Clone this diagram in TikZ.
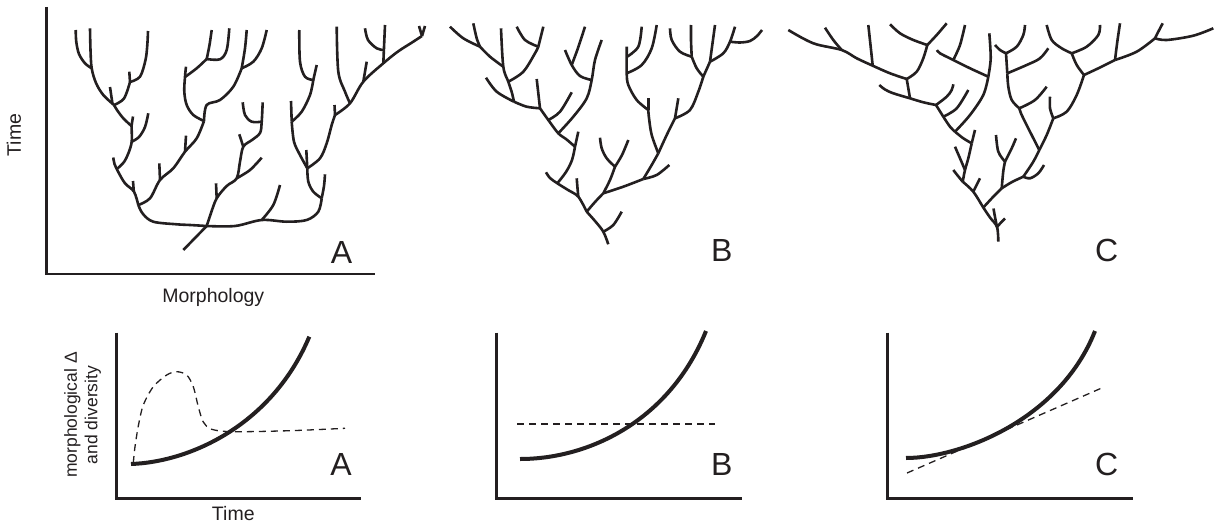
\documentclass[tikz,border=0pt]{standalone}
\usepackage{fontspec}
\setmainfont{Liberation Sans}
\definecolor{ink}{RGB}{35,31,32}
\newcommand{\brn}[1]{\draw[tree] plot[smooth,tension=0.55] coordinates {#1};}
\begin{document}
\begin{tikzpicture}[x=1pt,y=-1pt,
  tree/.style={line width=2.6pt, line cap=butt, line join=round, draw=ink},
  axis/.style={line width=2.8pt, line cap=butt, line join=miter, draw=ink},
  curve/.style={line width=4pt, draw=ink},
  dsh/.style={line width=1.3pt, dash pattern=on 7pt off 5pt, draw=ink},
  big/.style={font=\fontsize{32}{38}\selectfont, inner sep=0pt, text=ink},
  lab/.style={font=\fontsize{19.5}{23}\selectfont, inner sep=0pt, text=ink}]
\useasboundingbox (0,0) rectangle (1215,527);
% ---------------- top axes A
\draw[axis] (46.7,7) -- (46.7,274) -- (375,274);
\node[lab, rotate=90] (time1) at (14,135) {Time};
\node[lab, anchor=base] (morph) at (213.3,302) {Morphology};
% ---------------- tree A
\brn{(183.3,250) (195,238) (206.7,226)}
\brn{(206.7,226) (190,225) (176.7,224.3) (153.3,221.7) (143,214) (138.3,205)}
\brn{(206.7,226) (235,226) (261.7,220) (286.7,221.7) (306.7,220) (318.3,211.7) (321.7,198.3)}
\brn{(138.3,205) (134,191.7) (125,183.3) (118.3,172) (114.5,164) (113.3,157.5)}
\brn{(133.8,191.5) (133,181)}
\brn{(117.5,168.5) (124,162) (128.5,153) (131.7,141.7) (131.5,126)}
\brn{(131.5,126) (133,116.5)}
\brn{(131.5,126) (123.3,118.3) (117,110) (114,105)}
\brn{(131.7,141.7) (139,137) (145,127) (148.3,113.3)}
\brn{(112.5,104) (110,87)}
\brn{(114,105) (103.3,95) (96,83) (91.7,68.3) (90.5,50) (90,28.3)}
\brn{(91.7,68.3) (85,63.3) (79,54) (76.3,42) (75.7,30)}
\brn{(114,105) (124,98.5) (130,82)}
\brn{(130,82) (129.3,71.7)}
\brn{(130,82) (140,76.7) (145.5,60) (147.3,45) (148,31)}
\brn{(138.3,205) (150,198.3) (160,180) (173.3,168.3) (185,151.7) (196.7,138.3) (204,121)}
\brn{(160,180) (159.3,163.3)}
\brn{(185,151.7) (186,135.7)}
\brn{(204,121) (193.3,115) (186.7,105) (184.3,91.7) (185,76.7) (186,66.7)}
\brn{(185,77) (196.7,68.3) (206.7,59)}
\brn{(206.7,59) (209.5,45) (211.7,30)}
\brn{(206.7,59) (220,59.3) (226.7,50) (229.3,28.3)}
\brn{(204,121) (206.7,105) (220,100) (233.3,86.7) (241.7,68.3)}
\brn{(241.7,68.3) (245,48.3) (246.7,30)}
\brn{(241.7,68.3) (253.3,61.7) (261.7,48.3) (266.7,30)}
\brn{(206.7,226) (211,213) (216.7,198.3) (226.7,186) (236.7,178.3) (240,161.7) (243.3,146.7) (252,140) (260,133) (261.7,121.7) (262.7,102.3)}
\brn{(216.7,198.3) (216,183.3)}
\brn{(236.7,178.3) (250,170) (261.7,157.7)}
\brn{(243.3,146.7) (239.3,134.3)}
\brn{(261.7,121.7) (251.7,121.7) (245,115) (242.7,102.3)}
\brn{(261.7,220) (273.3,205) (280,185)}
\brn{(321.7,198.3) (324,186) (325,174.3)}
\brn{(321.7,198.3) (313.3,191.7) (308.3,181.7) (307.3,168.3)}
\brn{(307.3,168.3) (306.3,150)}
\brn{(307.3,168.3) (300,155) (294,141.7) (291.7,121.7)}
\brn{(291.7,121.7) (291,101)}
\brn{(291.7,121.7) (301.7,111.7) (310,95) (313.3,80)}
\brn{(313.3,80) (305,76.7) (300,61.7) (299.3,30)}
\brn{(313.3,80) (316.7,65)}
\brn{(307.3,168.3) (320,158.3) (326.7,143.3) (331.7,125) (335,115)}
\brn{(335,115) (334.5,105)}
\brn{(335,115) (350,103.3) (363.3,81.7) (383.3,63.3) (398,51.5) (412,42.5) (422,36)}
\brn{(422,36) (425,26)}
\brn{(422,36) (419,26)}
\brn{(350,103.3) (345,91.7) (338.3,71.7) (336.7,26.7)}
\brn{(363.3,81.7) (366.7,61.7)}
\brn{(383.3,63.3) (385,25)}
\brn{(383.3,50) (376.7,48.3) (368,40) (365,28.3)}
\node[big] (ta) at (341.5,252) {A};
% ---------------- tree B
\brn{(608.3,244.3) (603.3,231.7) (595,221) (586.7,211.7)}
\brn{(603.3,231.7) (613.3,225) (621.7,211.7)}
\brn{(586.7,211.7) (578.3,196.7) (568,190) (557.3,183.3) (550,178) (546,172.3)}
\brn{(578.3,196.7) (577.5,188) (576.7,178.3)}
\brn{(557.3,183.3) (566,172) (572,160) (575,146.7)}
\brn{(575,146.7) (578.3,131.7)}
\brn{(575,146.7) (566,139) (558.3,133.3) (548.3,120) (540,108.3)}
\brn{(558.3,133.3) (573.3,116.7) (586.7,98.3) (591.7,80) (595,60) (601.7,40)}
\brn{(548.3,120) (560,111.7) (571.7,92.3)}
\brn{(591.7,80) (580,76) (571.7,65) (565,50)}
\brn{(571.7,65) (578,48) (585,26.7)}
\brn{(540,108.3) (536.7,79)}
\brn{(540,108.3) (526.7,106.7) (514,101.7)}
\brn{(514,101.7) (496.7,91.7) (486,77.7)}
\brn{(514,101.7) (511.7,92) (508.3,81.7) (503.3,66.7) (501,28.3)}
\brn{(503.3,66.7) (490,56.7) (480,46.7)}
\brn{(480,46.7) (476.7,38.3) (473.3,23.3)}
\brn{(480,46.7) (463.3,38.3) (450,26.7)}
\brn{(508.3,81.7) (523.3,71.7) (535,53.3) (538.3,46.7)}
\brn{(538.3,46.7) (525,40) (516.7,26.7)}
\brn{(538.3,46.7) (541,36) (543.3,26.7)}
\brn{(586.7,211.7) (595,202) (603.3,193.3)}
\brn{(603.3,193.3) (610,180) (615,166.7)}
\brn{(615,166.7) (606.7,158.3) (601.7,148.3) (600,137.7)}
\brn{(615,166.7) (622,155) (628.3,140)}
\brn{(603.3,193.3) (623.3,186.7) (643.3,179)}
\brn{(643.3,179) (656.7,175) (669.3,165)}
\brn{(643.3,179) (651.7,165) (658.3,153.3)}
\brn{(658.3,153.3) (651.7,135) (649,118) (648.3,110)}
\brn{(648.3,110) (648.3,97.7)}
\brn{(648.3,110) (636.7,100) (628.3,85) (626.7,73.3) (626.7,55) (626.7,46.7)}
\brn{(626.7,57) (638.3,46.7) (641.7,26.7)}
\brn{(626.7,73.3) (641.7,65) (651.7,48.3) (656.7,25)}
\brn{(658.3,153.3) (666.7,135) (675,118.3)}
\brn{(675,118.3) (678.3,98.3)}
\brn{(675,118.3) (690,110) (698.3,91.7) (703.3,76.7)}
\brn{(703.3,76.7) (696.7,68.3) (691.7,56.7)}
\brn{(691.7,56.7) (680,51.7) (671.7,40) (670,28.3)}
\brn{(691.7,56.7) (691,40) (691,25)}
\brn{(703.3,76.7) (710,61.7)}
\brn{(710,61.7) (715,25)}
\brn{(710,61.7) (723.3,53.3) (730,41.7) (735,26.7)}
\brn{(730,41.7) (740,42.5) (750,41) (757,36) (762,30)}
\node[big] (tb) at (721.7,250) {B};
% ---------------- tree C
\brn{(788.3,30) (813.3,43.3) (841.7,50) (856.7,58.3) (872.7,65.7) (890,73.3) (906.7,79)}
\brn{(841.7,50) (833.3,40) (825,27.7)}
\brn{(872.7,65.7) (870.5,45) (868.3,25)}
\brn{(906.7,79) (916.7,71.7) (923.3,58.3) (927.3,45)}
\brn{(927.3,45) (913.3,40) (900,33.3) (890,24.3)}
\brn{(927.3,45) (936.7,35) (946.7,23.3)}
\brn{(906.7,79) (908.3,88.3) (910,98.3)}
\brn{(910,98.3) (893.3,93.3) (885,89.5) (879.3,85)}
\brn{(910,98.3) (923.3,102.3) (936,105)}
\brn{(936,105) (946.7,96.7) (951.7,90) (953.3,84.3)}
\brn{(936,105) (943.3,116.7)}
\brn{(943.3,116.7) (956.7,108.3) (968.3,90)}
\brn{(943.3,116.7) (950,126.7) (955,131.7)}
\brn{(955,131.7) (970,115) (983.3,95) (988.3,76.7)}
\brn{(955,131.7) (963.3,138.3) (971.7,143.3)}
\brn{(971.7,143.3) (975,130)}
\brn{(971.7,143.3) (968.3,158.3) (965,170) (962.7,181.7)}
\brn{(965,170) (960,158.3) (955,146.7)}
\brn{(962.7,181.7) (958,176) (953.3,170)}
\brn{(962.7,181.7) (973.3,191.7) (983.3,207.5) (990,217.5) (997,227) (998.3,241.7)}
\brn{(973.3,191.7) (980,178.3)}
\brn{(997,227) (995,217) (993.5,208.5)}
\brn{(997,227) (1001,222.5) (1005,218.5)}
\brn{(983.3,207.5) (993.3,196.7) (1001.7,188.3)}
\brn{(1001.7,188.3) (1003.3,171) (1005,161.7)}
\brn{(1005,161.7) (998.3,151.7) (996,135)}
\brn{(1005,161.7) (1011.7,148.3) (1016,138.3)}
\brn{(1001.7,188.3) (1012,182) (1023.3,176.7)}
\brn{(1023.3,176.7) (1030,178.3) (1038.3,173.3) (1044,165)}
\brn{(1023.3,176.7) (1033.3,161.7) (1039.3,150)}
\brn{(1039.3,150) (1030,131.7) (1021.7,115) (1019.3,108.3)}
\brn{(1019.3,108.3) (1035,100) (1046.7,86.7)}
\brn{(1019.3,108.3) (1011.7,100) (1008.3,86.7) (1007.3,73.3)}
\brn{(1007.3,73.3) (1026.7,65) (1040,58.3) (1048.3,48.3)}
\brn{(1007.3,73.3) (1006,53.3)}
\brn{(1006,53.3) (1000,50) (995,45)}
\brn{(1006,53.3) (1016.7,46.7) (1023.3,35) (1025,25)}
\brn{(1039.3,150) (1046.7,135) (1053.3,118.3)}
\brn{(1053.3,118.3) (1050,108.3) (1050,96.7)}
\brn{(1053.3,118.3) (1066.7,111.7) (1076.7,95) (1084,75)}
\brn{(1084,75) (1076.7,65) (1071.7,53.3)}
\brn{(1071.7,53.3) (1061.7,48.3) (1051.7,40) (1046.7,25)}
\brn{(1071.7,53.3) (1086.7,46.7) (1098.3,35) (1100,25)}
\brn{(1084,75) (1100,67.5) (1115,60)}
\brn{(1115,60) (1117.3,41.7) (1120,23.3)}
\brn{(1115,60) (1136.7,51.7) (1155,38.3)}
\brn{(1155,38.3) (1158.3,31.7) (1162.7,23.3)}
\brn{(1155,38.3) (1166.7,40) (1193.3,35.7) (1213.3,28.3)}
\brn{(988.3,76.7) (970,68.3) (953.3,60) (940,53.3) (937,50)}
\brn{(953.3,60) (960,45) (965,25)}
\brn{(988.3,76.7) (990.7,58.3) (989.3,33.3)}
\node[big] (tc) at (1106.7,250) {C};
% ---------------- bottom plots
\draw[axis] (116.2,332.7) -- (116.2,498.8) -- (360.7,498.8);
\draw[axis] (496.7,332.7) -- (496.7,498.8) -- (742.3,498.8);
\draw[axis] (887.7,332.7) -- (887.7,498.8) -- (1132.7,498.8);
\node[font=\fontsize{17.5}{20.5}\selectfont, rotate=90, align=center, inner sep=0pt, text=ink] (ylab) at (82.5,415) {morphological Δ\\and diversity};
\node[lab, anchor=base] (time2) at (233.3,520.7) {Time};
\draw[curve] (131,464) .. controls (190,462) and (272,425) .. (309.3,336.7);
\draw[dsh] plot[smooth] coordinates {(133.3,463) (135,446.7) (138.5,425) (143.3,405) (153.3,386.7) (166.7,375) (176.7,371.7) (186.7,375) (193.3,386.7) (198.3,406.7) (203.3,422) (211.7,429.3) (233.3,431.7) (290,430.7) (345,428.3)};
\draw[curve] (520,459) .. controls (590,459) and (670,420) .. (706,331);
\draw[dsh] (517,424) -- (715,424);
\draw[curve] (906,458) .. controls (960,458) and (1060,420) .. (1095,331);
\draw[dsh] (907,473) -- (1104,387);
\node[big] (pa) at (341,464) {A};
\node[big] (pb) at (721.7,464) {B};
\node[big] (pc) at (1106.7,464) {C};
\end{tikzpicture}
\end{document}
